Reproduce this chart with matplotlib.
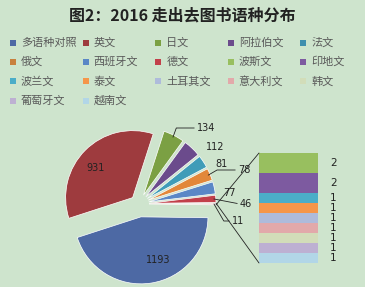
import numpy as np
import matplotlib
matplotlib.use("Agg")
import matplotlib.pyplot as plt
from matplotlib.patches import ConnectionPatch

plt.rcParams['font.family'] = ['Noto Sans CJK SC', 'DejaVu Sans']

# data
pie_labels = ['多语种对照', '英文', '日文', '阿拉伯文', '法文', '俄文', '西班牙文', '德文', '其他']
pie_vals = [1193, 931, 134, 112, 81, 78, 77, 46, 11]
bar_labels = ['波斯文', '印地文', '波兰文', '泰文', '土耳其文', '意大利文', '韩文', '葡萄牙文', '越南文']
bar_vals = [2, 2, 1, 1, 1, 1, 1, 1, 1]

legend_labels = pie_labels[:-1] + bar_labels

pie_colors = ['#4d69a4', '#9e3b3e', '#7ba043', '#6b4b8c', '#3f9cb8',
              '#e2873a', '#5a87c6', '#c2404a', '#e6c3c2']
bar_colors = ['#98bf5f', '#7d5aa0', '#4badc8', '#f5964a', '#aebbdb',
              '#e2a9aa', '#d2ddb9', '#bdb0d2', '#b2d6e7']
legend_colors = ['#4d69a4', '#9e3b3e', '#7ba043', '#6b4b8c', '#3f8fae',
                 '#c8803d', '#5a87c6', '#c2404a', '#98bf5f', '#7d5aa0',
                 '#4badc8', '#f5964a', '#aebbdb', '#e2a9aa', '#d2ddb9',
                 '#bdb0d2', '#b2d6e7']

bg = '#cee4cd'
W, H = 365, 287

fig = plt.figure(figsize=(W / 100, H / 100), dpi=100, facecolor=bg)
ax = fig.add_axes([0, 0, 1, 1])
ax.set_facecolor(bg)

# explode offsets are in pixel units here (axes data = pixels)
explode = [13, 9, 10, 10, 10, 10, 10, 10, 10]
wedges, _ = ax.pie(pie_vals, colors=pie_colors, explode=explode,
                   startangle=-0.75, counterclock=False,
                   center=(139, H - 204), radius=67,
                   wedgeprops=dict(edgecolor='white', linewidth=0.5))
ax.set_xlim(0, W)
ax.set_ylim(0, H)
ax.set_aspect('auto')
ax.axis('off')


def edge_pt(w, frac=1.0, ang=None):
    if ang is None:
        ang = (w.theta1 + w.theta2) / 2
    a = np.deg2rad(ang)
    return (w.center[0] + w.r * frac * np.cos(a), w.center[1] + w.r * frac * np.sin(a))


# title
fig.text(0.5, 1 - 15 / H, '图2：2016 走出去图书语种分布', ha='center', va='center',
         fontsize=11.5, fontweight='bold', color='#222222')

# legend, laid out in rows like the original
for i, (lab, c) in enumerate(zip(legend_labels, legend_colors)):
    row, col = divmod(i, 5)
    x = 13 + col * 72.6
    y = H - (42.5 + row * 19.4)
    ax.scatter([x], [y], marker='s', s=17, color=c, linewidths=0)
    ax.text(x + 8, y, lab, fontsize=8, color='#5a5a5a', va='center', ha='left')

# data labels
lab_kw = dict(fontsize=7, color='#222222', family=['DejaVu Sans'])
ax.text(158, H - 260, '1193', ha='center', va='center', **lab_kw)
ax.text(96, H - 168, '931', ha='center', va='center', **lab_kw)
ax.text(206, H - 147, '112', ha='left', va='center', **lab_kw)
ax.text(215, H - 164, '81', ha='left', va='center', **lab_kw)
ax.text(223, H - 193, '77', ha='left', va='center', **lab_kw)

leaders = [(2, '134', (197, H - 128), 'angle,angleA=0,angleB=70,rad=0'),
           (5, '78', (238, H - 170), 'angle,angleA=0,angleB=30,rad=0'),
           (7, '46', (240, H - 204), 'arc3'),
           (8, '11', (232, H - 221), 'angle,angleA=0,angleB=-60,rad=0')]
for idx, txt, pos, cs in leaders:
    ax.annotate(txt, xy=edge_pt(wedges[idx], 0.97), xytext=pos, ha='left', va='center',
                arrowprops=dict(arrowstyle='-', color='#222222', lw=0.6,
                                connectionstyle=cs,
                                shrinkA=0, shrinkB=0, relpos=(0, 0.5)),
                **lab_kw)

# bar of the small group
ax2 = fig.add_axes([259 / W, (H - 263) / H, 59 / W, 110 / H])
ax2.set_xlim(0, 1)
ax2.set_ylim(0, sum(bar_vals))
ax2.axis('off')
bottom = 0
for v, c in zip(bar_vals[::-1], bar_colors[::-1]):
    ax2.bar(0, v, width=1, bottom=bottom, align='edge', color=c, edgecolor='none')
    ax2.text(1.2, bottom + v / 2, str(v), fontsize=7.5, color='#222222',
             va='center', ha='left', family=['DejaVu Sans'])
    bottom += v

# connector lines from the small slice to the bar
w = wedges[-1]
p_low = edge_pt(w, 1.0, w.theta1)
p_high = edge_pt(w, 1.0, w.theta2)
for pa, pb in [((0, sum(bar_vals)), p_low), ((0, 0), p_high)]:
    con = ConnectionPatch(xyA=pa, coordsA=ax2.transData, xyB=pb, coordsB=ax.transData,
                          color='#222222', lw=0.6)
    fig.add_artist(con)

fig.savefig('out.png', dpi=100, facecolor=bg)
